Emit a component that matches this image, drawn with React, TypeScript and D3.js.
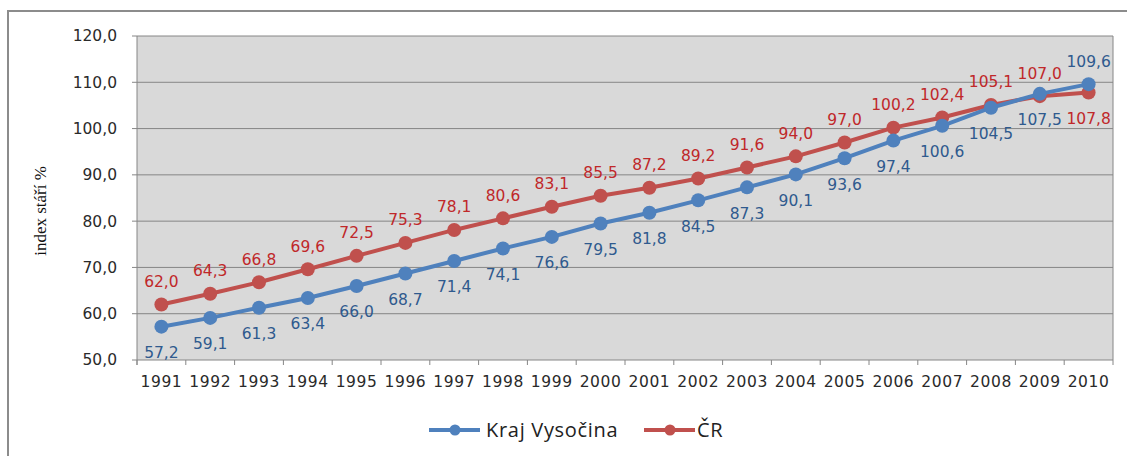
import React from "react";
import * as d3 from "d3";

const years = ["1991","1992","1993","1994","1995","1996","1997","1998","1999","2000","2001","2002","2003","2004","2005","2006","2007","2008","2009","2010"];
const vysocina = [57.2,59.1,61.3,63.4,66.0,68.7,71.4,74.1,76.6,79.5,81.8,84.5,87.3,90.1,93.6,97.4,100.6,104.5,107.5,109.6];
const cr = [62.0,64.3,66.8,69.6,72.5,75.3,78.1,80.6,83.1,85.5,87.2,89.2,91.6,94.0,97.0,100.2,102.4,105.1,107.0,107.8];
const yTicks = [50,60,70,80,90,100,110,120];
// label placement: +1 below, -1 above
const vysLabelSide = [1,1,1,1,1,1,1,1,1,1,1,1,1,1,1,1,1,1,1,-1];
const crLabelSide = [-1,-1,-1,-1,-1,-1,-1,-1,-1,-1,-1,-1,-1,-1,-1,-1,-1,-1,-1,1];
const legendNames = ["Kraj Vysočina", "ČR"];

const W = 1127, H = 456;
const L = 137, R = 1113, T = 36, B = 360;
const BLUE = "#4F81BD", RED = "#C0504D";
const BLUE_T = "#2F5A8E", RED_T = "#C0282A";
const fmt = (v: number) => v.toFixed(1).replace(".", ",");

export default function App() {
  const x = d3.scaleBand<string>().domain(years).range([L, R]);
  const y = d3.scaleLinear().domain([50, 120]).range([B, T]);
  const cx = (i: number) => (x(years[i]) as number) + x.bandwidth() / 2;
  const line = d3.line<number>().x((_, i) => cx(i)).y((d) => y(d));
  const font = "'DejaVu Sans', Verdana, sans-serif";
  const fs = 15.5;
  const series = [
    { data: cr, color: RED, tcolor: RED_T, side: crLabelSide },
    { data: vysocina, color: BLUE, tcolor: BLUE_T, side: vysLabelSide },
  ];
  return (
    <svg width={W} height={H} style={{ position: "absolute", left: 0, top: 0, background: "#fff" }}>
      <rect x={8} y={11} width={1200} height={500} fill="#fff" stroke="#8c8c8c" strokeWidth={2} />
      <rect x={L} y={T} width={R - L} height={B - T} fill="#D9D9D9" />
      {yTicks.map((t) => (
        <g key={t}>
          <line x1={L - 5} x2={R} y1={y(t)} y2={y(t)} stroke="#868686" strokeWidth={1} />
          <text x={117} y={y(t)} dy="0.35em" textAnchor="end" fontFamily={font} fontSize={fs} fill="#2a2a2a">{fmt(t)}</text>
        </g>
      ))}
      <line x1={L} x2={L} y1={T} y2={B + 5} stroke="#868686" />
      <line x1={R} x2={R} y1={T} y2={B + 5} stroke="#868686" />
      {years.map((yr, i) => (
        <g key={yr}>
          <line x1={x(yr) as number} x2={x(yr) as number} y1={B} y2={B + 5} stroke="#868686" />
          <text x={cx(i)} y={382} dy="0.35em" textAnchor="middle" fontFamily={font} fontSize={fs} letterSpacing={0.6} fill="#2a2a2a">{yr}</text>
        </g>
      ))}
      <text transform={`translate(46,${211}) rotate(-90)`} textAnchor="middle" fontFamily="'Liberation Serif', 'Times New Roman', serif" fontSize={17} fill="#111">index stáří %</text>
      {series.map((s, k) => (
        <g key={k}>
          <path d={line(s.data) || ""} fill="none" stroke={s.color} strokeWidth={4} strokeLinejoin="round" />
          {s.data.map((v, i) => (
            <circle key={i} cx={cx(i)} cy={y(v)} r={7} fill={s.color} />
          ))}
        </g>
      ))}
      {series.map((s, k) => (
        <g key={"l" + k}>
          {s.data.map((v, i) => (
            <text key={i} x={cx(i)} y={y(v) + (s.side[i] > 0 ? 26 : -23)} dy="0.35em" textAnchor="middle" fontFamily={font} fontSize={fs} fill={s.tcolor}>{fmt(v)}</text>
          ))}
        </g>
      ))}
      <g>
        <line x1={429} x2={480} y1={430} y2={430} stroke={BLUE} strokeWidth={4} />
        <circle cx={455} cy={430} r={5.5} fill={BLUE} />
        <text x={486} y={430} dy="0.35em" fontFamily="'Open Sans', sans-serif" fontSize={20} letterSpacing={0.7} fill="#222">{legendNames[0]}</text>
        <line x1={644} x2={695} y1={430} y2={430} stroke={RED} strokeWidth={4} />
        <circle cx={670} cy={430} r={5.5} fill={RED} />
        <text x={697} y={430} dy="0.35em" fontFamily="'Open Sans', sans-serif" fontSize={20} letterSpacing={0.7} fill="#222">{legendNames[1]}</text>
      </g>
    </svg>
  );
}
